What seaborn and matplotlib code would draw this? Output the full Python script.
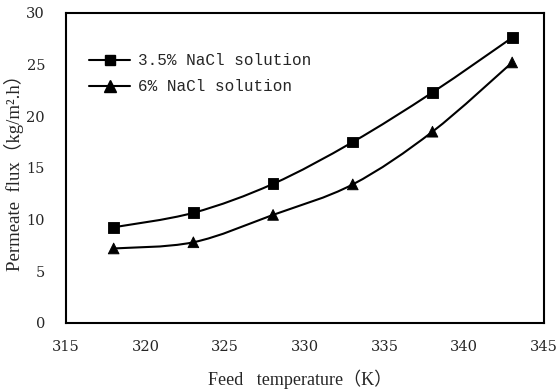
import numpy as np
import pandas as pd
import matplotlib
matplotlib.use("Agg")
import matplotlib.pyplot as plt
from matplotlib.path import Path
from matplotlib.patches import PathPatch
from matplotlib.lines import Line2D
from matplotlib.ticker import MultipleLocator
import seaborn as sns

# data
temps = [318, 323, 328, 333, 338, 343]
flux_35 = [9.25, 10.65, 13.45, 17.5, 22.3, 27.6]
flux_6 = [7.2, 7.8, 10.45, 13.4, 18.5, 25.2]
labels = ["3.5% NaCl solution", "6% NaCl solution"]


# smooth curve through the points, like the spreadsheet "smoothed line"
def smooth_path(x, y):
    pts = np.column_stack([x, y]).astype(float)
    verts = [pts[0]]
    codes = [Path.MOVETO]
    n = len(pts)
    for i in range(n - 1):
        p0 = pts[i - 1] if i > 0 else pts[i]
        p1 = pts[i]
        p2 = pts[i + 1]
        p3 = pts[i + 2] if i + 2 < n else pts[i + 1]
        c1 = p1 + (p2 - p0) / 6.0
        c2 = p2 - (p3 - p1) / 6.0
        verts += [c1, c2, p2]
        codes += [Path.CURVE4] * 3
    return Path(verts, codes)


sns.set_theme(style="white")
plt.rcParams['font.family'] = ['Liberation Serif', 'Noto Sans CJK SC']

df = pd.DataFrame({
    "temp": temps * 2,
    "flux": flux_35 + flux_6,
    "series": [labels[0]] * len(temps) + [labels[1]] * len(temps),
})

fig = plt.figure(figsize=(5.58, 3.89), dpi=100)
ax = fig.add_axes([0.118, 0.170, 0.857, 0.797])

for yv in (flux_35, flux_6):
    ax.add_patch(PathPatch(smooth_path(temps, yv), facecolor="none",
                           edgecolor="black", lw=1.5, zorder=2))

sns.scatterplot(data=df, x="temp", y="flux", style="series",
                markers={labels[0]: "s", labels[1]: "^"}, color="black",
                s=60, edgecolor="black", legend=False, ax=ax, zorder=3)

ax.set_xlim(315, 345)
ax.set_ylim(0, 30)
ax.xaxis.set_major_locator(MultipleLocator(5))
ax.xaxis.set_minor_locator(MultipleLocator(1))
ax.yaxis.set_major_locator(MultipleLocator(5))
ax.yaxis.set_minor_locator(MultipleLocator(1))
ax.tick_params(which="both", direction="in", color="black", width=0.8)
ax.tick_params(which="major", length=4)
ax.tick_params(which="minor", length=3)
ax.tick_params(axis="x", which="major", pad=12)
ax.tick_params(axis="y", which="major", pad=15)
for lab in ax.get_xticklabels() + ax.get_yticklabels():
    lab.set_fontfamily("DejaVu Serif")
    lab.set_fontsize(10.5)
for sp in ax.spines.values():
    sp.set_color("black")
    sp.set_linewidth(1.5)

ax.set_xlabel("Feed   temperature（K）", fontsize=13)
ax.set_ylabel("Permeate  flux（kg/m².h）", fontsize=13.5)
ax.xaxis.set_label_coords(0.49, -0.15)
ax.yaxis.set_label_coords(-0.088, 0.5)

handles = [Line2D([], [], color="black", lw=1.5, marker="s", markersize=7.5),
           Line2D([], [], color="black", lw=1.5, marker="^", markersize=8)]
ax.legend(handles, labels, loc="upper left", bbox_to_anchor=(0.035, 0.89),
          frameon=False, handlelength=2.6, handletextpad=0.5,
          labelspacing=0.68, borderaxespad=0,
          prop={"family": "Liberation Mono", "size": 11.5})

fig.savefig("out.png", dpi=100)
